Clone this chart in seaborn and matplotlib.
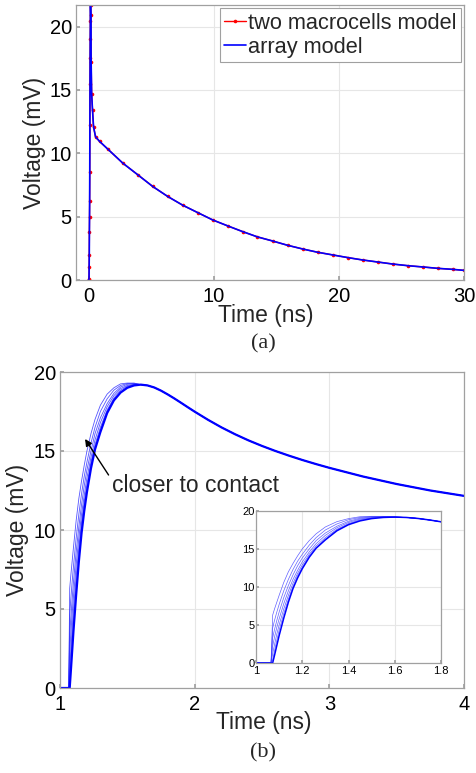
import matplotlib
matplotlib.use("Agg")
import matplotlib.pyplot as plt
import seaborn as sns

# ---------------- data: panel (a) ----------------
t_two = [0.0, 0.02, 0.04, 0.05, 0.06, 0.07, 0.08, 0.09, 0.10, 0.11,
         0.12, 0.13, 0.14, 0.15, 0.16, 0.18, 0.21, 0.25, 0.32, 0.40,
         0.56, 0.88, 1.54, 2.74, 3.94, 5.13, 6.33, 7.53, 8.72, 9.92,
         11.12, 12.31, 13.5, 14.7, 15.9, 17.1, 18.3, 19.5, 20.7, 21.9,
         23.1, 24.3, 25.5, 26.7, 27.9, 29.1, 30.0]
v_two = [0.0, 0.0, 0.1, 1.0, 2.0, 3.8, 5.0, 6.2, 8.5, 12.2,
         15.5, 17.5, 19.0, 20.4, 21.7, 20.9, 17.2, 14.7, 13.4, 12.1,
         11.3, 10.94, 10.33, 9.22, 8.30, 7.38, 6.59, 5.90, 5.32, 4.74,
         4.27, 3.82, 3.40, 3.08, 2.74, 2.45, 2.19, 1.98, 1.77, 1.58,
         1.42, 1.26, 1.13, 1.03, 0.92, 0.84, 0.76]
t_array = [0.0, 0.02, 0.04, 0.05, 0.06, 0.07, 0.08, 0.09, 0.10, 0.11,
           0.12, 0.13, 0.14, 0.15, 0.16, 0.18, 0.21, 0.25, 0.32, 0.40,
           0.56, 0.88, 1.54, 2.74, 3.94, 5.13, 6.33, 7.53, 8.72, 9.92,
           11.12, 12.31, 13.5, 14.7, 15.9, 17.1, 18.3, 19.5, 20.7, 21.9,
           23.1, 24.3, 25.5, 26.7, 27.9, 29.1, 30.0]
v_array = [0.0, 0.0, 0.1, 1.0, 2.0, 3.8, 5.0, 6.2, 8.5, 12.2,
           15.5, 17.5, 19.0, 20.4, 21.7, 20.9, 17.2, 14.7, 13.4, 12.1,
           11.3, 10.94, 10.33, 9.22, 8.30, 7.38, 6.59, 5.90, 5.32, 4.74,
           4.27, 3.82, 3.40, 3.08, 2.74, 2.45, 2.19, 1.98, 1.77, 1.58,
           1.42, 1.26, 1.13, 1.03, 0.92, 0.84, 0.76]
label_two = "two macrocells model"
label_array = "array model"

# ---------------- data: panel (b) ----------------
t_rise = [1.0, 1.065, 1.072, 1.08, 1.09, 1.10, 1.12, 1.14, 1.16, 1.18,
          1.20, 1.23, 1.26, 1.30, 1.35, 1.40, 1.45, 1.50, 1.55, 1.60]
t_tail = [1.65, 1.70, 1.75, 1.80, 1.85, 1.90, 1.95, 2.00, 2.10, 2.20,
          2.30, 2.40, 2.50, 2.60, 2.70, 2.80, 2.90, 3.00, 3.25, 3.50,
          3.75, 4.00]
tail_v = [19.15, 19.02, 18.82, 18.58, 18.32, 18.045, 17.765, 17.49, 16.97,
          16.49, 16.06, 15.67, 15.32, 15.00, 14.705, 14.43, 14.175, 13.935,
          13.385, 12.91, 12.50, 12.16]
rise_c1 = [0, 0, 6.3, 7.1, 8.0, 8.9, 10.6, 12.0, 13.1, 14.1, 15.0, 16.1,
           17.0, 17.9, 18.6, 19.0, 19.25, 19.3, 19.3, 19.2]
rise_c2 = [0, 0, 4.6, 5.6, 6.7, 7.7, 9.5, 11.0, 12.3, 13.4, 14.3, 15.5,
           16.5, 17.5, 18.3, 18.85, 19.15, 19.27, 19.28, 19.2]
rise_c3 = [0, 0, 3.3, 4.4, 5.6, 6.7, 8.6, 10.2, 11.6, 12.8, 13.8, 15.0,
           16.1, 17.1, 18.0, 18.65, 19.05, 19.22, 19.26, 19.2]
rise_c4 = [0, 0, 2.2, 3.4, 4.7, 5.8, 7.8, 9.5, 11.0, 12.2, 13.3, 14.6,
           15.7, 16.8, 17.8, 18.5, 18.95, 19.15, 19.22, 19.2]
rise_c5 = [0, 0, 1.2, 2.4, 3.8, 5.0, 7.1, 8.9, 10.5, 11.8, 12.9, 14.3,
           15.4, 16.5, 17.6, 18.35, 18.85, 19.1, 19.2, 19.2]
rise_c6 = [0, 0, 0.4, 1.6, 3.0, 4.3, 6.5, 8.4, 10.1, 11.5, 12.6, 14.1,
           15.2, 16.3, 17.5, 18.25, 18.75, 19.05, 19.17, 19.2]
rise_c7 = [0, 0, 0.0, 1.0, 2.3, 3.6, 5.9, 8.0, 9.8, 11.2, 12.4, 13.9,
           15.1, 16.2, 17.4, 18.2, 18.7, 19.0, 19.15, 19.2]
thin_rises = [rise_c1, rise_c2, rise_c3, rise_c4, rise_c5, rise_c6]
thick_rise = rise_c7

xticks_a = [0, 10, 20, 30]
yticks_a = [0, 5, 10, 15, 20]
xticks_b = [1, 2, 3, 4]
yticks_b = [0, 5, 10, 15, 20]
xticks_in = [1, 1.2, 1.4, 1.6, 1.8]
xticklabels_in = ["1", "1.2", "1.4", "1.6", "1.8"]
yticks_in = [0, 5, 10, 15, 20]

# ---------------- style ----------------
sns.set_theme(style="whitegrid")
plt.rcParams['font.family'] = ['Liberation Sans', 'DejaVu Sans']
plt.rcParams.update({
    "axes.edgecolor": "#a0a0a0",
    "axes.linewidth": 0.9,
    "grid.color": "#e6e6e6",
    "grid.linewidth": 0.8,
    "xtick.direction": "in",
    "ytick.direction": "in",
    "xtick.bottom": True,
    "ytick.left": True,
    "xtick.color": "#a0a0a0",
    "ytick.color": "#a0a0a0",
    "xtick.labelcolor": "black",
    "ytick.labelcolor": "black",
    "xtick.major.size": 3,
    "ytick.major.size": 3,
    "axes.facecolor": "white",
})

W, H = 476, 773
fig = plt.figure(figsize=(W / 100, H / 100), dpi=100)


def px_axes(left, top, right, bottom):
    return fig.add_axes([left / W, (H - bottom) / H, (right - left) / W, (bottom - top) / H])


def style_axes(ax, fs, pad_x, pad_y):
    for s in ax.spines.values():
        s.set_visible(True)
        s.set_color("#a0a0a0")
    ax.tick_params(axis="x", labelsize=fs, pad=pad_x)
    ax.tick_params(axis="y", labelsize=fs, pad=pad_y)
    ax.grid(True)


t_b = t_rise + t_tail

# ---------------- panel (a) ----------------
ax1 = px_axes(76, 5, 464, 280)
sns.lineplot(x=t_two, y=v_two, ax=ax1, color="#ff0000", lw=1.0, marker="o",
             markersize=2.6, markeredgewidth=0, estimator=None, sort=False,
             label=label_two)
sns.lineplot(x=t_array, y=v_array, ax=ax1, color="#0000ff", lw=1.2,
             estimator=None, sort=False, label=label_array)
ax1.set_xlim(-1, 30)
ax1.set_ylim(0, 21.7)
ax1.set_xticks(xticks_a)
ax1.set_yticks(yticks_a)
style_axes(ax1, 14.5, 5, 3)
ax1.set_xlabel("Time (ns)", fontsize=16.5)
ax1.set_ylabel("Voltage (mV)", fontsize=16.5)
ax1.xaxis.set_label_coords((266 - 76) / 388, -(315 - 280) / 275)
ax1.xaxis.label.set_verticalalignment("center")
ax1.yaxis.set_label_coords((35 - 76) / 388, 0.5)
ax1.yaxis.label.set_verticalalignment("center")
leg = ax1.legend(loc="upper right", bbox_to_anchor=(1.0, 1.0), fontsize=15.7,
                 handlelength=1.0, handletextpad=0.1, borderpad=0.2,
                 labelspacing=0.15, borderaxespad=0.15, fancybox=False,
                 framealpha=1, edgecolor="#a0a0a0")
leg.get_frame().set_linewidth(0.8)

fig.text(263 / W, 1 - 344 / H, "(a)", fontsize=16, ha="center", va="center",
         family=["Liberation Serif", "DejaVu Serif"])

# ---------------- panel (b) ----------------
ax2 = px_axes(60, 372, 464, 688)
for r in thin_rises:
    sns.lineplot(x=t_b, y=r + tail_v, ax=ax2, color="#2a2aff", lw=0.6,
                 alpha=0.8, estimator=None, sort=False)
sns.lineplot(x=t_b, y=thick_rise + tail_v, ax=ax2, color="#0000ff", lw=1.6,
             estimator=None, sort=False)
ax2.set_xlim(1, 4)
ax2.set_ylim(0, 20)
ax2.set_xticks(xticks_b)
ax2.set_yticks(yticks_b)
style_axes(ax2, 14.5, 5, 3)
ax2.set_xlabel("Time (ns)", fontsize=16.5)
ax2.set_ylabel("Voltage (mV)", fontsize=16.5)
ax2.xaxis.set_label_coords((264 - 60) / 404, -(723 - 688) / 316)
ax2.xaxis.label.set_verticalalignment("center")
ax2.yaxis.set_label_coords((18 - 60) / 404, 0.5)
ax2.yaxis.label.set_verticalalignment("center")
ax2.annotate("closer to contact", xy=(1.186, 15.76), xytext=(1.385, 12.8),
             fontsize=16.5, ha="left", va="center",
             arrowprops=dict(arrowstyle="-|>", color="black", lw=1.0,
                             shrinkA=0, shrinkB=0, mutation_scale=10,
                             relpos=(0.0, 0.75)))

fig.text(263 / W, 1 - 753 / H, "(b)", fontsize=16, ha="center", va="center",
         family=["Liberation Serif", "DejaVu Serif"])

# ---------------- inset ----------------
ax3 = px_axes(256, 511, 441, 663)
for r in thin_rises:
    sns.lineplot(x=t_b, y=r + tail_v, ax=ax3, color="#3a3aff", lw=0.5,
                 alpha=0.8, estimator=None, sort=False)
sns.lineplot(x=t_b, y=thick_rise + tail_v, ax=ax3, color="#0000ff", lw=1.1,
             estimator=None, sort=False)
ax3.set_xlim(1, 1.8)
ax3.set_ylim(0, 20)
ax3.set_xticks(xticks_in)
ax3.set_xticklabels(xticklabels_in)
ax3.set_yticks(yticks_in)
style_axes(ax3, 8, 2, 1)
ax3.tick_params(length=2)

fig.savefig("out.png", dpi=100)
